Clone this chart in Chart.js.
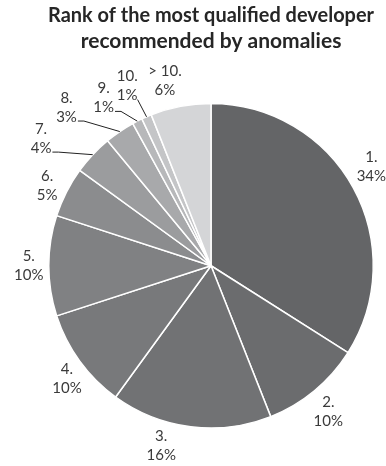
<!DOCTYPE html>
<html>
<head>
<meta charset="utf-8">
<script src="https://cdn.jsdelivr.net/npm/chart.js@4"></script>
<style>
  html, body { margin: 0; padding: 0; background: #fff; }
  #wrap { width: 386px; height: 466px; }
</style>
</head>
<body>
<div id="wrap"><canvas id="rankChart" width="386" height="466"></canvas></div>
<script>
// rank categories and share of anomalies (%)
const rankLabels = ['1.', '2.', '3.', '4.', '5.', '6.', '7.', '8.', '9.', '10.', '> 10.'];
const rankShares = [34, 10, 16, 10, 10, 5, 4, 3, 1, 1, 6];

const sliceColors = ['#646567', '#6b6c6e', '#717274', '#78797b', '#808183', '#8b8c8e',
                     '#9b9c9e', '#a8a9ab', '#b7b8ba', '#c4c5c7', '#d4d5d7'];

// label placement tweaks: [angle shift (deg), distance beyond rim (px), leader line?]
const labelNudge = [
    [-2.8, 26, false], [0.8, 25, false], [8.3, 24, false], [-2.2, 21, false],
    [0, 20, false], [-1.1, 20, false], [-6.4, 50, true], [-8.2, 52, true],
    [-5.6, 37, true], [-1.6, 36, true], [-3.2, 28, false]
];

// draws "1." / "34%" outside each slice, like excel's best-fit labels
const outsideLabels = {
    id: 'outsideLabels',
    afterDatasetsDraw(chart) {
        const ctx = chart.ctx;
        const meta = chart.getDatasetMeta(0);
        const values = chart.data.datasets[0].data;
        ctx.save();
        ctx.font = '15px Lato, "Open Sans", sans-serif';
        ctx.fillStyle = '#3a3a3a';
        ctx.strokeStyle = '#222';
        ctx.lineWidth = 1;
        ctx.textAlign = 'center';
        ctx.textBaseline = 'middle';
        meta.data.forEach((arc, i) => {
            const p = arc.getProps(['x', 'y', 'startAngle', 'endAngle', 'outerRadius'], true);
            const mid = (p.startAngle + p.endAngle) / 2;
            const nudge = labelNudge[i] || [0, 22, false];
            const a = mid + nudge[0] * Math.PI / 180;
            const r = p.outerRadius + nudge[1];
            const lx = p.x + Math.cos(a) * r;
            const ly = p.y + Math.sin(a) * r;
            const line1 = chart.data.labels[i];
            const line2 = values[i] + '%';
            ctx.fillText(line1, lx, ly - 9.5);
            ctx.fillText(line2, lx, ly + 9.5);

            if (nudge[2]) {
                const ex = p.x + Math.cos(mid) * p.outerRadius;
                const ey = p.y + Math.sin(mid) * p.outerRadius;
                const w2 = ctx.measureText(line2).width;
                let sx = lx + w2 / 2 + 1;
                let sy = ly + 9.5 + 4;
                ctx.beginPath();
                if (ex - sx > 14) {
                    ctx.moveTo(sx, sy);
                    ctx.lineTo(sx + 6, sy);
                    ctx.lineTo(ex, ey);
                } else {
                    ctx.moveTo(sx - 1, sy);
                    ctx.lineTo(ex, ey);
                }
                ctx.stroke();
            }
        });
        ctx.restore();
    }
};

new Chart(document.getElementById('rankChart'), {
    type: 'pie',
    data: {
        labels: rankLabels,
        datasets: [{
            data: rankShares,
            backgroundColor: sliceColors,
            borderColor: '#ffffff',
            borderWidth: 1.5
        }]
    },
    options: {
        responsive: false,
        animation: false,
        layout: { padding: { left: 48, right: 12, top: 0, bottom: 37 } },
        plugins: {
            legend: { display: false },
            tooltip: { enabled: false },
            title: {
                display: true,
                text: ['Rank of the most qualified developer', 'recommended by anomalies'],
                color: '#262626',
                font: { family: 'Lato, "Open Sans", sans-serif', size: 21, weight: 'bold', lineHeight: 1.25 },
                padding: { top: 2, bottom: 48 }
            }
        }
    },
    plugins: [outsideLabels]
});
</script>
</body>
</html>
